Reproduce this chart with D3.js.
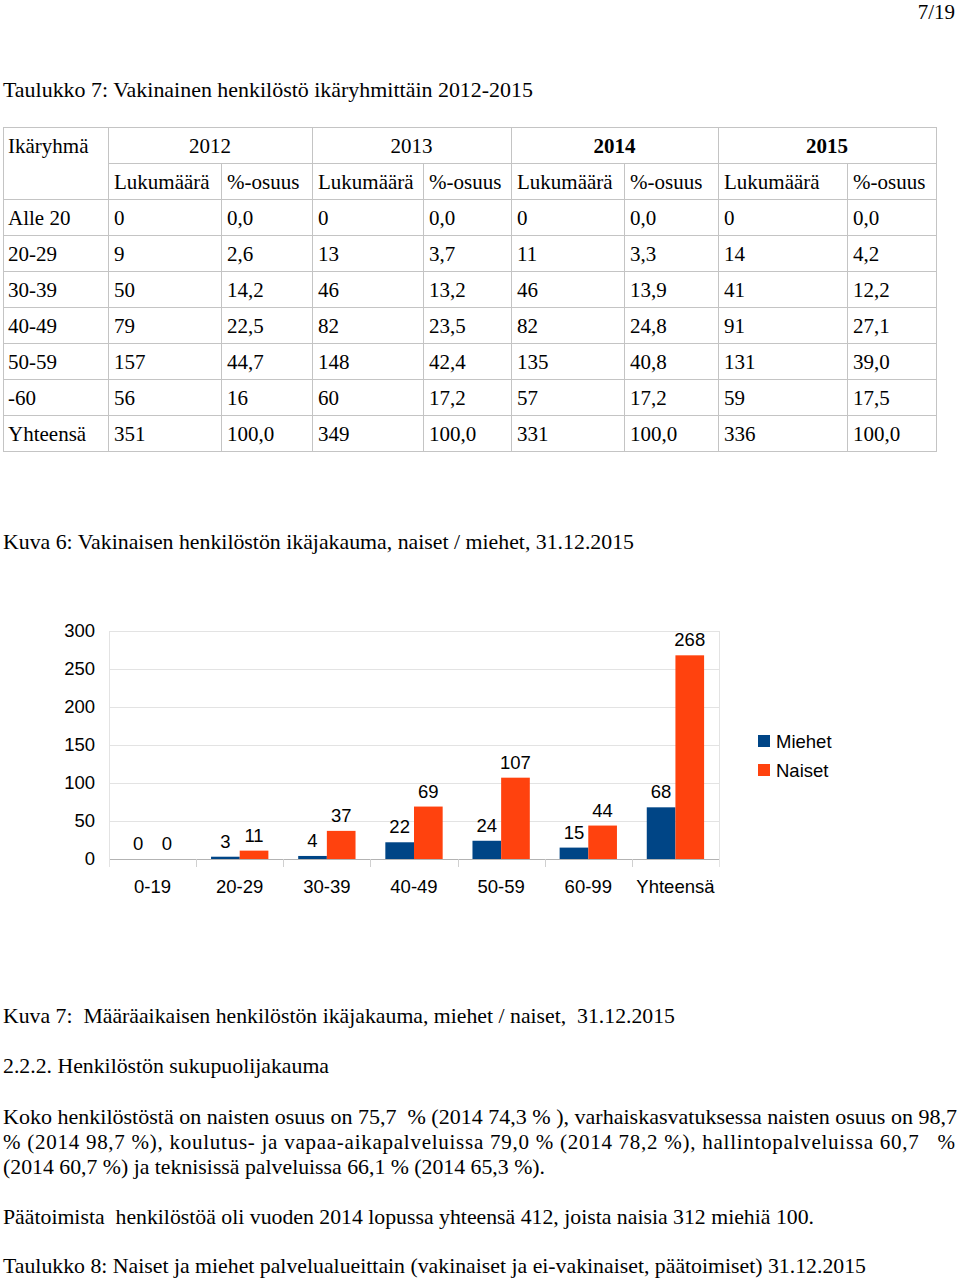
<!DOCTYPE html>
<html><head><meta charset="utf-8">
<script src="https://cdn.jsdelivr.net/npm/d3@7"></script>
<style>
html,body{margin:0;padding:0;background:#fff;}
svg text{white-space:pre;}
</style></head>
<body>
<svg id="page" width="960" height="1280"></svg>
<script>
// ---------- DATA ----------
const ageGroups = ["Alle 20","20-29","30-39","40-49","50-59","-60","Yhteensä"];
const years = ["2012","2013","2014","2015"];
const boldYears = ["2014","2015"];
const count2012 = ["0","9","50","79","157","56","351"];
const pct2012   = ["0,0","2,6","14,2","22,5","44,7","16","100,0"];
const count2013 = ["0","13","46","82","148","60","349"];
const pct2013   = ["0,0","3,7","13,2","23,5","42,4","17,2","100,0"];
const count2014 = ["0","11","46","82","135","57","331"];
const pct2014   = ["0,0","3,3","13,9","24,8","40,8","17,2","100,0"];
const count2015 = ["0","14","41","91","131","59","336"];
const pct2015   = ["0,0","4,2","12,2","27,1","39,0","17,5","100,0"];

const categories = ["0-19","20-29","30-39","40-49","50-59","60-99","Yhteensä"];
const seriesNames = ["Miehet","Naiset"];
const miehet = [0,3,4,22,24,15,68];
const naiset = [0,11,37,69,107,44,268];
const yTicks = [0,50,100,150,200,250,300];

// ---------- PAGE ----------
const svg = d3.select("#page");
const serif = "'Liberation Serif','Times New Roman',serif";
const sans = "'Liberation Sans',Arial,sans-serif";

function line(txt, x, y, opts={}) {
  const t = svg.append("text").attr("x", x).attr("y", y)
    .attr("font-family", opts.family || serif)
    .attr("font-size", opts.size || 21)
    .attr("fill", "#000")
    .attr("text-anchor", opts.anchor || "start")
    .text(txt);
  if (opts.len) t.attr("textLength", opts.len).attr("lengthAdjust", opts.adjust || "spacingAndGlyphs");
  if (opts.bold) t.attr("font-weight", "bold");
  return t;
}

line("7/19", 955, 19, {anchor:"end", size:21});
line("Taulukko 7: Vakinainen henkilöstö ikäryhmittäin 2012-2015", 3, 97, {len:530});

// ---------- TABLE ----------
const colX = [3,108,221,312,423,511,624,718,847,936];
const rowTop = 127, rowH = 36;
const border = "#c4c4c4";
const tbl = svg.append("g");
function cell(x0,x1,y0,y1){
  tbl.append("rect").attr("x",x0+0.5).attr("y",y0+0.5).attr("width",x1-x0).attr("height",y1-y0)
    .attr("fill","none").attr("stroke",border).attr("stroke-width",1);
}
// header
cell(colX[0],colX[1],rowTop,rowTop+2*rowH);
line("Ikäryhmä", colX[0]+5, rowTop+26);
years.forEach((yr,i)=>{
  const a=colX[1+2*i], b=colX[3+2*i];
  cell(a,b,rowTop,rowTop+rowH);
  line(yr,(a+b)/2,rowTop+26,{anchor:"middle", bold: boldYears.includes(yr)});
  cell(a,colX[2+2*i],rowTop+rowH,rowTop+2*rowH);
  cell(colX[2+2*i],b,rowTop+rowH,rowTop+2*rowH);
  line("Lukumäärä", a+6, rowTop+rowH+26);
  line("%-osuus", colX[2+2*i]+6, rowTop+rowH+26);
});
const cols = [count2012,pct2012,count2013,pct2013,count2014,pct2014,count2015,pct2015];
ageGroups.forEach((g,r)=>{
  const y0 = rowTop+(r+2)*rowH;
  cell(colX[0],colX[1],y0,y0+rowH);
  line(g, colX[0]+5, y0+26);
  cols.forEach((c,j)=>{
    cell(colX[j+1],colX[j+2],y0,y0+rowH);
    line(c[r], colX[j+1]+6, y0+26);
  });
});

line("Kuva 6: Vakinaisen henkilöstön ikäjakauma, naiset / miehet, 31.12.2015", 3, 549, {len:631});

// ---------- CHART ----------
const chart = svg.append("g");
const x0 = d3.scaleBand().domain(categories).range([109,719]);
const x1 = d3.scaleBand().domain(seriesNames).range([0,x0.bandwidth()]).paddingOuter(0.52);
const y = d3.scaleLinear().domain([0,300]).range([859,631]);
const color = d3.scaleOrdinal().domain(seriesNames).range(["#004586","#ff420e"]);

// gridlines
chart.selectAll(".grid").data(yTicks).enter().append("line")
  .attr("x1",109).attr("x2",719).attr("y1",d=>y(d)+0.5).attr("y2",d=>y(d)+0.5)
  .attr("stroke",d=>d===0?"#b3b3b3":"#e3e3e3").attr("stroke-width",1);
// side borders and category ticks
const bounds = categories.map(c=>x0(c)).concat([x0.range()[1]]);
chart.selectAll(".ct").data(bounds).enter().append("line")
  .attr("x1",d=>Math.round(d)+0.5).attr("x2",d=>Math.round(d)+0.5)
  .attr("y1",(d,i)=>(i===0||i===bounds.length-1)?y(300):y(0))
  .attr("y2",y(0)+8)
  .attr("stroke",(d,i)=>(i===0||i===bounds.length-1)?"#e3e3e3":"#d0d0d0");

// y tick labels
chart.selectAll(".yl").data(yTicks).enter().append("text")
  .attr("x",95).attr("y",d=>y(d)).attr("dy","0.35em")
  .attr("text-anchor","end").attr("font-family",sans).attr("font-size",18.5).attr("fill","#000")
  .text(d=>d);
// x labels
chart.selectAll(".xl").data(categories).enter().append("text")
  .attr("x",d=>x0(d)+x0.bandwidth()/2).attr("y",893)
  .attr("text-anchor","middle").attr("font-family",sans).attr("font-size",18.5).attr("fill","#000")
  .text(d=>d);

const rows = categories.map((c,i)=>({cat:c, vals:[{s:"Miehet",v:miehet[i]},{s:"Naiset",v:naiset[i]}]}));
const grp = chart.selectAll(".grp").data(rows).enter().append("g")
  .attr("transform",d=>`translate(${x0(d.cat)},0)`);
grp.selectAll("rect").data(d=>d.vals).enter().append("rect")
  .attr("x",d=>x1(d.s)).attr("width",x1.bandwidth())
  .attr("y",d=>y(d.v)).attr("height",d=>y(0)-y(d.v))
  .attr("fill",d=>color(d.s));
grp.selectAll("text").data(d=>d.vals).enter().append("text")
  .attr("x",d=>x1(d.s)+x1.bandwidth()/2).attr("y",d=>y(d.v)-9)
  .attr("text-anchor","middle").attr("font-family",sans).attr("font-size",18.5).attr("fill","#000")
  .text(d=>d.v);

// legend
const leg = chart.selectAll(".leg").data(seriesNames).enter().append("g")
  .attr("transform",(d,i)=>`translate(758,${735+i*29})`);
leg.append("rect").attr("width",12).attr("height",12).attr("fill",d=>color(d));
leg.append("text").attr("x",18).attr("y",13).attr("font-family",sans).attr("font-size",18.5).attr("fill","#000").text(d=>d);

// ---------- TEXT BELOW ----------
line("Kuva 7:  Määräaikaisen henkilöstön ikäjakauma, miehet / naiset,  31.12.2015", 3, 1023, {len:672});
line("2.2.2. Henkilöstön sukupuolijakauma", 3, 1073, {len:326});
line("Koko henkilöstöstä on naisten osuus on 75,7  % (2014 74,3 % ), varhaiskasvatuksessa naisten osuus on 98,7", 3, 1124, {len:954});
line("% (2014 98,7 %), koulutus- ja vapaa-aikapalveluissa 79,0 % (2014 78,2 %), hallintopalveluissa 60,7   %", 3, 1149, {len:952, adjust:"spacing"});
line("(2014 60,7 %) ja teknisissä palveluissa 66,1 % (2014 65,3 %).", 3, 1174, {len:542});
line("Päätoimista  henkilöstöä oli vuoden 2014 lopussa yhteensä 412, joista naisia 312 miehiä 100.", 3, 1224, {len:811});
line("Taulukko 8: Naiset ja miehet palvelualueittain (vakinaiset ja ei-vakinaiset, päätoimiset) 31.12.2015", 3, 1273, {len:863});
</script>
</body></html>
